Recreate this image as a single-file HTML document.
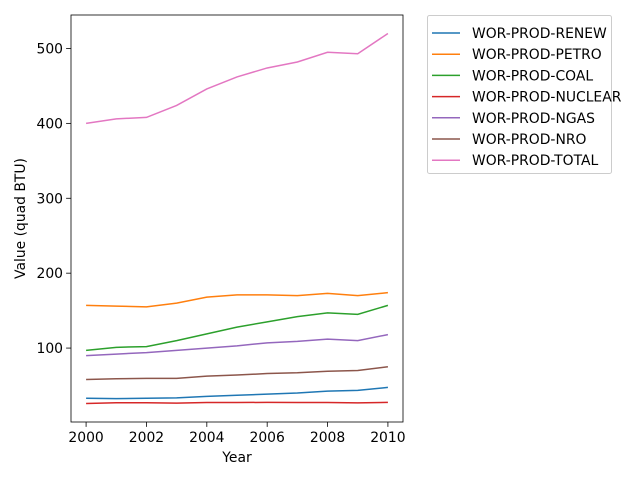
<!DOCTYPE html>
<html><head><meta charset="utf-8"><style>
body{margin:0;background:#fff;}
svg{font-family:"DejaVu Sans","Liberation Sans",sans-serif;}
</style></head><body>
<svg id="chart" width="640" height="480" xmlns="http://www.w3.org/2000/svg">
<rect width="640" height="480" fill="#fff"/>
<g id="plot"></g>
</svg>
<script>
const years=[2000,2001,2002,2003,2004,2005,2006,2007,2008,2009,2010];
const seriesNames=["WOR-PROD-RENEW","WOR-PROD-PETRO","WOR-PROD-COAL","WOR-PROD-NUCLEAR","WOR-PROD-NGAS","WOR-PROD-NRO","WOR-PROD-TOTAL"];
const renew=[33,32.5,33,33.5,35.5,37,38.5,40,42.5,43.5,47.5];
const petro=[157,156,155,160,168,171,171,170,173,170,174];
const coal=[97,101,102,110,119,128,135,142,147,145,157];
const nuclear=[26,27,27,26.5,27.3,27.3,27.5,27.3,27.3,26.8,27.5];
const ngas=[90,92,94,97,100,103,107,109,112,110,118];
const nro=[58,59,59.5,59.5,62.5,64,66,67,69,70,75];
const total=[400,406,408,424,446,462,474,482,495,493,520];
const allSeries=[renew,petro,coal,nuclear,ngas,nro,total];
const colors=["#1f77b4","#ff7f0e","#2ca02c","#d62728","#9467bd","#8c564b","#e377c2"];
const yTicks=[100,200,300,400,500];
const xTicks=[2000,2002,2004,2006,2008,2010];
const L=71,R=403,T=15,B=422;
const FS=13.9;
const flat=allSeries.flat();
const dmin=Math.min(...flat),dmax=Math.max(...flat),pad=(dmax-dmin)*0.05;
const ymin=dmin-pad,ymax=dmax+pad;
const xmin=years[0]-0.5,xmax=years[years.length-1]+0.5;
const xs=v=>L+(v-xmin)/(xmax-xmin)*(R-L);
const ys=v=>B-(v-ymin)/(ymax-ymin)*(B-T);
const NS="http://www.w3.org/2000/svg";
const g=document.getElementById('plot');
function mk(tag,attrs,parent){const e=document.createElementNS(NS,tag);for(const k in attrs)e.setAttribute(k,attrs[k]);(parent||g).appendChild(e);return e;}
allSeries.forEach((s,i)=>{
  const p=mk('polyline',{points:s.map((v,j)=>xs(years[j])+','+ys(v)).join(' '),fill:'none',stroke:colors[i],'stroke-width':1.5});
  
  
});
const frame=mk('rect',{x:L,y:T,width:R-L,height:B-T,fill:'none',stroke:'#000','stroke-width':0.8});


xTicks.forEach(t=>{
  const x=xs(t);
  mk('line',{x1:x,x2:x,y1:B,y2:B+4.9,stroke:'#000','stroke-width':0.8});
  const tx=mk('text',{x:x,y:B+20,'text-anchor':'middle','font-size':FS});
  tx.textContent=t;
  
  
});
yTicks.forEach(t=>{
  const y=ys(t);
  mk('line',{x1:L-4.9,x2:L,y1:y,y2:y,stroke:'#000','stroke-width':0.8});
  const tx=mk('text',{x:L-8,y:y+5,'text-anchor':'end','font-size':FS});
  tx.textContent=t;
  
  
});
const xt=mk('text',{x:(L+R)/2,y:462,'text-anchor':'middle','font-size':FS});
xt.textContent='Year';


const yt=mk('text',{x:0,y:0,'text-anchor':'middle','font-size':FS,transform:'translate(25,'+((T+B)/2)+') rotate(-90)'});
yt.textContent='Value (quad BTU)';


const lg=mk('g',{});


mk('rect',{x:427.5,y:15.5,width:184,height:158,rx:2,fill:'#fff',stroke:'#ccc','stroke-width':1},lg);
seriesNames.forEach((n,i)=>{
  const y=33+i*21.2;
  const e=mk('g',{},lg);
  
  
  mk('line',{x1:432,x2:460,y1:y,y2:y,stroke:colors[i],'stroke-width':1.5},e);
  const t=mk('text',{x:472,y:y+5,'font-size':FS},e);
  t.textContent=n;
});
</script>
</body></html>
